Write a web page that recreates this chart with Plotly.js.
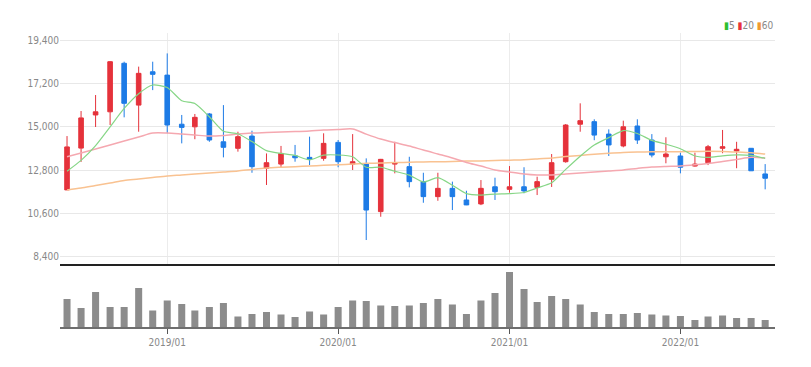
<!DOCTYPE html>
<html>
<head>
<meta charset="utf-8">
<script src="https://cdn.plot.ly/plotly-3.0.1.min.js"></script>
<style>html,body{margin:0;padding:0;background:#fff;}#chart{width:811px;height:367px;}</style>
</head>
<body>
<div id="chart"></div>
<script>
const months = ['2018-06','2018-07','2018-08','2018-09','2018-10','2018-11','2018-12',
'2019-01','2019-02','2019-03','2019-04','2019-05','2019-06','2019-07','2019-08','2019-09','2019-10','2019-11','2019-12',
'2020-01','2020-02','2020-03','2020-04','2020-05','2020-06','2020-07','2020-08','2020-09','2020-10','2020-11','2020-12',
'2021-01','2021-02','2021-03','2021-04','2021-05','2021-06','2021-07','2021-08','2021-09','2021-10','2021-11','2021-12',
'2022-01','2022-02','2022-03','2022-04','2022-05','2022-06','2022-07'];

const openP  = [11800,13920,15600,15760,18220,16100,17790,17620,15130,15000,15650,14240,13910,14530,12900,13110,13530,13450,13400,14210,13110,13110,10700,13110,12980,12220,11460,11880,11290,11090,11960,11830,11960,11930,12340,13230,15130,15260,14630,14030,15040,14330,13480,13520,13010,13180,13910,13770,13910,12610];
const highP  = [14530,15800,16610,18330,18300,18050,18300,18720,15600,15650,15700,16100,14750,14800,13650,14030,14080,14500,14670,14330,14630,13400,13370,14240,13480,12670,12670,12220,11760,12300,12420,13010,12950,12470,13620,15140,16190,15380,14870,15310,15380,14630,14470,13690,13690,14080,14840,14240,13920,13110];
const lowP   = [11800,13220,14990,15090,15480,14750,16860,14670,14160,14370,14240,13450,13740,12670,12050,12950,13230,13060,13280,12950,12810,9260,10440,12640,11930,11150,11250,10780,11030,11030,11290,11660,11630,11540,11950,13180,14750,14320,13520,13960,14130,13450,13150,12640,12980,13060,13660,12900,12770,11830];
const closeP = [13980,15450,15760,18300,16190,17710,17660,15090,14970,15480,14330,13960,14500,12980,13180,13650,13430,13350,14160,13230,13230,10780,13350,13180,12220,11460,11880,11460,11040,11880,11710,11960,11750,12220,13180,15090,15310,14580,14080,15000,14330,13570,13620,12950,13110,13990,13990,13860,12770,12390];

const ma5  = [12750,13300,14050,15000,15930,16680,17120,16990,16320,16180,15510,14770,14650,14250,13790,13650,13550,13320,13560,13570,13480,12950,12950,12750,12550,12200,12420,12040,11610,11540,11590,11610,11670,11900,12160,12840,13510,14080,14450,14810,14660,14310,14120,13890,13520,13450,13530,13580,13550,13400];
const ma20 = [13480,13670,13870,14080,14280,14480,14680,14680,14630,14580,14530,14560,14630,14680,14710,14740,14760,14790,14840,14860,14890,14630,14380,14200,14030,13820,13620,13420,13190,13010,12810,12710,12610,12560,12560,12610,12660,12710,12760,12810,12890,12960,12990,13010,13070,13140,13240,13340,13450,13420];
const ma60 = [11800,11900,12030,12150,12280,12350,12430,12510,12560,12610,12660,12710,12760,12840,12910,12950,12980,13010,13050,13080,13110,13150,13160,13190,13200,13220,13230,13240,13260,13270,13290,13310,13330,13370,13420,13490,13550,13610,13660,13700,13720,13730,13740,13740,13750,13760,13750,13720,13680,13620];

const volume = [28000,19000,35000,20000,20000,39000,16500,26500,23000,16500,20000,24000,10500,13000,15000,12500,10000,15500,12500,20000,26500,26000,21500,21000,21500,24000,28000,22500,13000,26500,34000,55000,38000,25000,31000,28000,22500,15000,13000,13000,14000,12500,11500,11000,7000,10500,11500,9000,9000,7000];

const priceTicks = [8400,10600,12800,15000,17200,19400];

const RED = '#e5323b', BLUE = '#1d7be6';
const FONT = "'DejaVu Sans Condensed', 'Liberation Sans Narrow', 'Liberation Sans', sans-serif";
const DAY = 86400000;

const traces = [
  {type:'scatter', mode:'lines', x:months, y:ma60, xaxis:'x', yaxis:'y', line:{color:'#f9c291', width:1.5, shape:'spline', smoothing:0.8}, hoverinfo:'skip'},
  {type:'scatter', mode:'lines', x:months, y:ma20, xaxis:'x', yaxis:'y', line:{color:'#f5a8b0', width:1.5, shape:'spline', smoothing:0.8}, hoverinfo:'skip'},
  {type:'scatter', mode:'lines', x:months, y:ma5, xaxis:'x', yaxis:'y', line:{color:'#86d686', width:1.2, shape:'spline', smoothing:0.6}, hoverinfo:'skip'},
  {type:'candlestick', x:months, open:openP, high:highP, low:lowP, close:closeP, xaxis:'x', yaxis:'y',
   increasing:{line:{color:RED, width:1}, fillcolor:RED},
   decreasing:{line:{color:BLUE, width:1}, fillcolor:BLUE},
   whiskerwidth:0, hoverinfo:'skip'},
  {type:'bar', x:months, y:volume, xaxis:'x2', yaxis:'y2', width:months.map(()=>15*DAY),
   marker:{color:'#8c8c8c', line:{width:0}}, hoverinfo:'skip'}
];

const layout = {
  width:811, height:367,
  margin:{l:60, r:36, t:33, b:40},
  paper_bgcolor:'#ffffff', plot_bgcolor:'#ffffff',
  showlegend:false,
  boxgap:0.5,
  font:{family:FONT, size:10, color:'#888'},
  xaxis:{type:'date', anchor:'y', range:['2018-05-17','2022-07-22'],
    dtick:'M12', tick0:'2019-01-01', showticklabels:false, ticks:'',
    showgrid:true, gridcolor:'#ececec', gridwidth:1,
    showline:true, linecolor:'#222', linewidth:2, zeroline:false,
    rangeslider:{visible:false}, fixedrange:true},
  yaxis:{domain:[0.2143,1], range:[8045,19755], tickvals:priceTicks, tickformat:',d',
    showgrid:true, gridcolor:'#e8e8e8', gridwidth:1, zeroline:false, ticks:'',
    tickfont:{family:FONT, size:10, color:'#888'}, showline:false, fixedrange:true},
  xaxis2:{type:'date', anchor:'y2', range:['2018-05-17','2022-07-22'],
    dtick:'M12', tick0:'2019-01-01', tickformat:'%Y/%m',
    ticks:'outside', ticklen:5, tickcolor:'#555', tickwidth:1,
    showgrid:false, showline:true, linecolor:'#6e6e6e', linewidth:2, zeroline:false,
    tickfont:{family:FONT, size:10, color:'#888'}, fixedrange:true},
  yaxis2:{domain:[0,0.2075], range:[0,61000], showticklabels:false, showgrid:false,
    zeroline:false, ticks:'', fixedrange:true},
  annotations:[{
    xref:'paper', yref:'paper', x:1, y:1.027, xanchor:'right', yanchor:'middle', showarrow:false,
    text:"<span style='color:#2fbf2f'>▮</span>5 <span style='color:#e8343c'>▮</span>20 <span style='color:#f09a30'>▮</span>60",
    font:{family:FONT, size:10, color:'#888'}
  }]
};

Plotly.newPlot('chart', traces, layout, {displayModeBar:false, staticPlot:true});
</script>
</body>
</html>
